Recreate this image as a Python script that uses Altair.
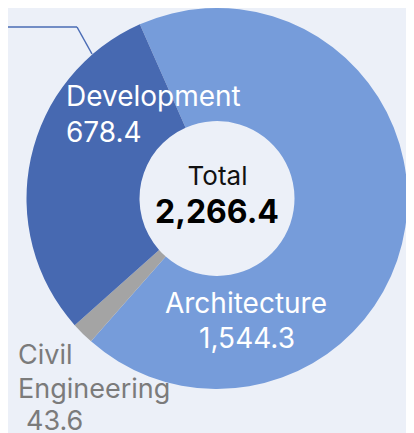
import math
import altair as alt
import pandas as pd

# ---- data ----
categories = ["Architecture", "Civil Engineering", "Development"]
values = [1544.3, 43.6, 678.4]
colors = ["#769cda", "#a4a4a4", "#4769b1"]
total = 2266.4

df = pd.DataFrame({"category": categories, "value": values, "order": [0, 1, 2]})

OFF = 8
CX, CY = 217 - OFF, 198.5 - OFF
START = math.radians(-23.9)
FONT = "Inter"

donut = alt.Chart(df).mark_arc(outerRadius=190.5, innerRadius=77.5).encode(
    theta=alt.Theta("value:Q", stack=True,
                    scale=alt.Scale(range=[START, START + 2 * math.pi])),
    color=alt.Color("category:N", scale=alt.Scale(domain=categories, range=colors), legend=None),
    order=alt.Order("order:Q"),
    x=alt.value(CX),
    y=alt.value(CY),
)

def label(txt, x, y, size, color, align="left", weight="normal"):
    return alt.Chart(df).transform_filter("datum.order == 0").mark_text(
        text=txt, font=FONT, fontSize=size, color=color, align=align,
        baseline="alphabetic", fontWeight=weight,
    ).encode(x=alt.value(x - OFF), y=alt.value(y - OFF))

fmt = lambda v: f"{v:,.1f}"

labels = [
    label(categories[2], 66, 106, 28, "white"),
    label(fmt(values[2]), 66, 142, 28, "white"),
    label(categories[0], 246, 313, 28, "white", align="center"),
    label(fmt(values[0]), 247, 348, 28, "white", align="center"),
    label("Civil", 18, 364, 27, "#7b7b7b"),
    label("Engineering", 18, 397.5, 27, "#7b7b7b"),
    label(fmt(values[1]), 26, 430, 27, "#7b7b7b"),
    label("Total", 217.5, 185, 26, "#111111", align="center"),
    label(fmt(total), 217, 223, 32, "#000000", align="center", weight="bold"),
]

leader_h = alt.Chart(df).transform_filter("datum.order == 0").mark_rule(
    color="#4a6cb5", strokeWidth=1.5
).encode(x=alt.value(0), x2=alt.value(77 - OFF), y=alt.value(27 - OFF), y2=alt.value(27 - OFF))
leader_d = alt.Chart(df).transform_filter("datum.order == 0").mark_rule(
    color="#4a6cb5", strokeWidth=1.5
).encode(x=alt.value(77 - OFF), x2=alt.value(92 - OFF), y=alt.value(27 - OFF), y2=alt.value(54 - OFF))

chart = alt.layer(donut, leader_h, leader_d, *labels).properties(
    width=398, height=425, padding=0, autosize="none", background="#ecf0f8"
).configure_view(stroke=None)

chart.save("out.html", embed_options={"renderer": "svg", "actions": False})
